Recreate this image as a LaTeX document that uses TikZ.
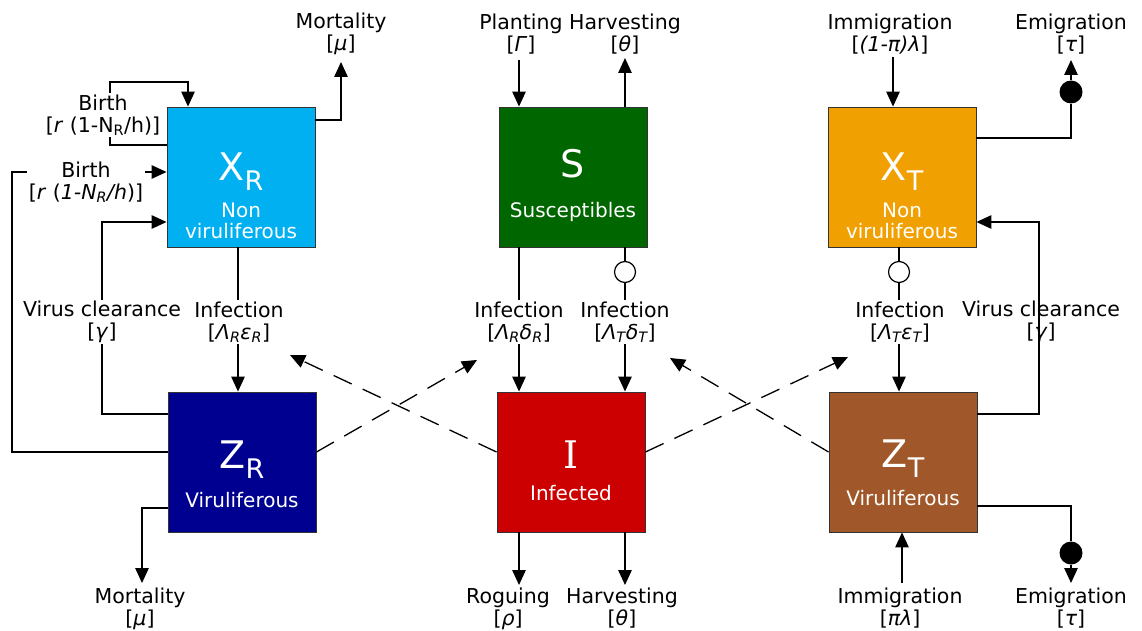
\documentclass[tikz,border=0pt]{standalone}
\usepackage{fontspec}
\setmainfont{DejaVu Sans}
\newfontfamily\serifI{DejaVu Serif}
\usetikzlibrary{arrows.meta}
\definecolor{cXR}{HTML}{00B0F0}
\definecolor{cS}{HTML}{006600}
\definecolor{cXT}{HTML}{F0A000}
\definecolor{cZR}{HTML}{000090}
\definecolor{cI}{HTML}{CC0000}
\definecolor{cZT}{HTML}{A0582A}
\begin{document}
\begin{tikzpicture}[x=1pt,y=-1pt,
  box/.style={draw=black!80, line width=0.9pt, minimum width=148pt, minimum height=140pt, inner sep=0pt},
  lab/.style={align=center, fill=white, inner sep=1.5pt, font=\fontsize{20.5}{22}\selectfont},
  labnf/.style={align=center, inner sep=1.5pt, font=\fontsize{20.5}{22}\selectfont},
  con/.style={line width=1.3pt},
  arr/.style={con, -{Triangle[length=15pt,width=13.5pt]}},
  dsh/.style={arr, dash pattern=on 20pt off 12pt},
  ocirc/.style={circle, draw, line width=1.2pt, fill=white, minimum size=21pt, inner sep=0pt},
  fcirc/.style={circle, fill=black, minimum size=23pt, inner sep=0pt},
  big/.style={text=white, font=\fontsize{38}{40}\selectfont, anchor=base, inner sep=0pt},
  sub/.style={text=white, font=\fontsize{20}{22}\selectfont, anchor=base, inner sep=0pt}
]
\useasboundingbox[fill=white] (0,0) rectangle (1142,631);

% boxes
\node[box, fill=cXR] (XR) at (241,177) {};
\node[box, fill=cS]  (S)  at (573,177) {};
\node[box, fill=cXT] (XT) at (902,177) {};
\node[box, fill=cZR] (ZR) at (242,462) {};
\node[box, fill=cI]  (I)  at (571,462) {};
\node[box, fill=cZT] (ZT) at (903,462) {};

% box texts
\node[big] (tXR) at (241,180) {X\raisebox{-10pt}{\fontsize{27}{27}\selectfont R}};
\node[sub] (tXR1) at (241,217) {Non};
\node[sub] (tXR2) at (241,238) {viruliferous};
\node[big] (tS) at (573,178) {S};
\node[sub] (tS1) at (573,217) {Susceptibles};
\node[big] (tXT) at (902,180) {X\raisebox{-10pt}{\fontsize{27}{27}\selectfont T}};
\node[sub] (tXT1) at (902,217) {Non};
\node[sub] (tXT2) at (902,238) {viruliferous};
\node[big] (tZR) at (242,468) {Z\raisebox{-10pt}{\fontsize{27}{27}\selectfont R}};
\node[sub] (tZR1) at (242,507) {Viruliferous};
\node[big] (tI) at (571,468) {\serifI I};
\node[sub] (tI1) at (571,500) {Infected};
\node[big] (tZT) at (903,467) {Z\raisebox{-10pt}{\fontsize{27}{27}\selectfont T}};
\node[sub] (tZT1) at (903,505) {Viruliferous};

% free ends
\coordinate (mXRt) at (341,62);
\coordinate (mZRb) at (142,583);
\coordinate (plt) at (519,60);
\coordinate (hvt) at (625,58);
\coordinate (rgb) at (519,585);
\coordinate (hvb) at (625,585);
\coordinate (imt) at (893,57);
\coordinate (emt) at (1071,60);
\coordinate (emb) at (1071,583);
\coordinate (imb) at (902,583);
\coordinate (d1) at (477,360);
\coordinate (d2) at (290,355);
\coordinate (d3) at (848,357);
\coordinate (d4) at (670,358);

% circles
\node[ocirc] (oc1) at (625,272) {};
\node[ocirc] (oc2) at (899,272) {};
\node[fcirc] (fc1) at (1071,92) {};
\node[fcirc] (fc2) at (1071,553) {};

% connectors left
\draw[arr] (XR.east |- 0,120) -| (mXRt);
\draw[arr] (XR.west |- 0,145) -- (110,145) |- (188,82) -- (XR.north -| 188,0);
\draw[arr] (ZR.west |- 0,452) -| (12,172) -- (XR.west |- 0,172);
\draw[arr] (ZR.west |- 0,414) -| (102,222) -- (XR.west |- 0,222);
\draw[arr] (XR.south -| 238,0) -- (ZR.north -| 238,0);
\draw[arr] (ZR.west |- 0,508) -| (mZRb);

% middle
\draw[arr] (plt) -- (S.north -| 519,0);
\draw[arr] (S.north -| 625,0) -- (hvt);
\draw[arr] (S.south -| 519,0) -- (I.north -| 519,0);
\draw[con] (S.south -| 625,0) -- (oc1);
\draw[arr] (oc1) -- (I.north -| 625,0);
\draw[arr] (I.south -| 519,0) -- (rgb);
\draw[arr] (I.south -| 625,0) -- (hvb);

% right
\draw[arr] (imt) -- (XT.north -| 893,0);
\draw[con] (XT.east |- 0,138) -| (fc1);
\draw[arr] (fc1) -- (emt);
\draw[con] (XT.south -| 899,0) -- (oc2);
\draw[arr] (oc2) -- (ZT.north -| 899,0);
\draw[con] (ZT.east |- 0,506) -| (fc2);
\draw[arr] (fc2) -- (emb);
\draw[arr] (imb) -- (ZT.south -| 902,0);

% dashed
\draw[dsh] (ZR.east |- 0,452) -- (d1);
\draw[dsh] (I.west |- 0,452) -- (d2);
\draw[dsh] (I.east |- 0,452) -- (d3);
\draw[dsh] (ZT.west |- 0,452) -- (d4);

% labels
\node[lab] (lMortT) at (341,34) {Mortality\\{}[\textit{μ}]};
\node[lab] (lBirth1) at (103,115) {Birth\\{}[\textit{r} (1-N\textsubscript{R}/h)]};
\node[lab] (lBirth2) at (86,182) {Birth\\{}[\textit{r} (\textit{1-N\textsubscript{R}/h})]};
\node[lab] (lVCL) at (102,322) {Virus clearance\\{}[\textit{γ}]};
\node[lab] (lInfR) at (239,322) {Infection\\{}[\textit{Λ\textsubscript{R}ε\textsubscript{R}}]};
\node[lab] (lMortB) at (140,609) {Mortality\\{}[\textit{μ}]};
\node[lab] (lPlant) at (521,34) {Planting\\{}[\textit{Γ}]};
\node[lab] (lHarvT) at (625,34) {Harvesting\\{}[\textit{θ}]};
\node[lab] (lInfRd) at (519,322) {Infection\\{}[\textit{Λ\textsubscript{R}δ\textsubscript{R}}]};
\node[lab] (lInfTd) at (625,322) {Infection\\{}[\textit{Λ\textsubscript{T}δ\textsubscript{T}}]};
\node[lab] (lRog) at (508,609) {Roguing\\{}[\textit{ρ}]};
\node[lab] (lHarvB) at (622,608) {Harvesting\\{}[\textit{θ}]};
\node[lab] (lImT) at (890,34) {Immigration\\{}[\textit{(1-π)λ}]};
\node[lab] (lEmT) at (1071,34) {Emigration\\{}[\textit{τ}]};
\node[lab] (lInfTe) at (900,322) {Infection\\{}[\textit{Λ\textsubscript{T}ε\textsubscript{T}}]};
\node[labnf] (lVCR) at (1041,322) {Virus clearance\\{}[\textit{γ}]};
\node[lab] (lImB) at (900,608) {Immigration\\{}[\textit{πλ}]};
\node[lab] (lEmB) at (1071,608) {Emigration\\{}[\textit{τ}]};

% right virus clearance drawn over its label
\draw[arr] (ZT.east |- 0,414) -| (1039,222) -- (XT.east |- 0,222);
\end{tikzpicture}
\end{document}
